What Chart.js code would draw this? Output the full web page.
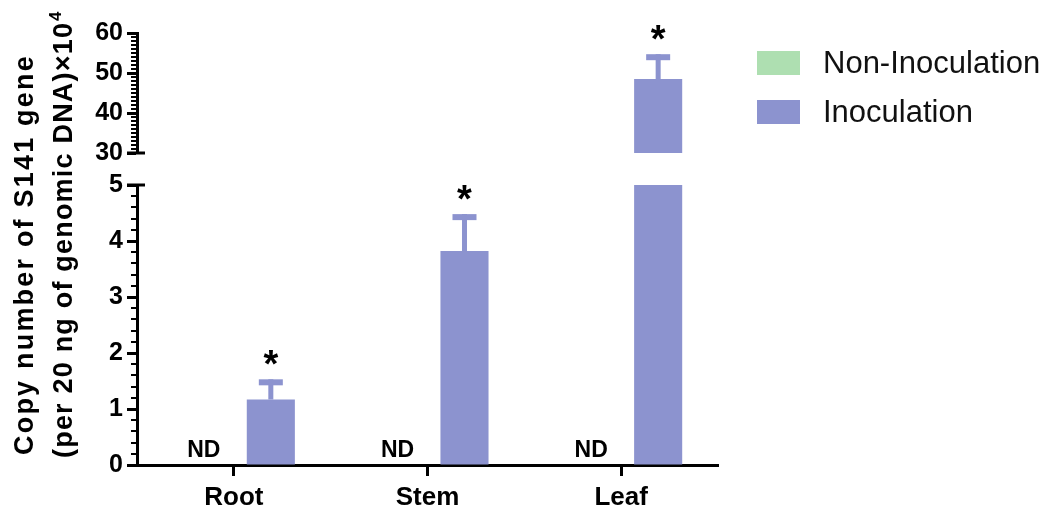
<!DOCTYPE html>
<html>
<head>
<meta charset="utf-8">
<script src="https://cdn.jsdelivr.net/npm/chart.js@4.4.1/dist/chart.umd.min.js"></script>
<style>
  html, body { margin: 0; padding: 0; background: #fff; }
  #wrap { position: relative; width: 1046px; height: 508px; }
  #wrap canvas { position: absolute; left: 0; top: 0; }
</style>
</head>
<body>
<div id="wrap">
  <canvas id="lowerChart" width="1046" height="508"></canvas>
  <canvas id="upperChart" width="1046" height="508"></canvas>
</div>
<script>
const categories = ['Root', 'Stem', 'Leaf'];
const seriesNames = ['Non-Inoculation', 'Inoculation'];
const nonInoculation = [0, 0, 0];          // ND = not detected
const inoculation = [1.17, 3.82, 48.5];
const inoculationErr = [0.36, 0.66, 6.2];
const ndFlags = [true, true, true];
const starFlags = [true, true, true];
const lowerTicks = [0, 1, 2, 3, 4, 5];
const upperTicks = [30, 40, 50, 60];
const titleLine1 = 'Copy number of S141 gene';
const titleLine2 = '(per 20 ng of genomic DNA)\u00d710';
const titleSup = '4';

const GREEN = '#AEDFB1';
const BLUE = '#8C93CF';
const FONT = '"Liberation Sans", Arial, sans-serif';

// segment geometry (pixels)
const lowerSeg = { top: 185, bottom: 465, ticks: lowerTicks, minor: 0.2, isLower: true };
const upperSeg = { top: 33, bottom: 153, ticks: upperTicks, minor: 1, isLower: false };

const segmentPlugin = {
    id: 'segment',
    afterDatasetsDraw(chart, args, opts) {
        const ctx = chart.ctx;
        const y = chart.scales.y;
        const area = chart.chartArea;
        const seg = opts.seg;

        // one-sided error bars and asterisks
        const meta = chart.getDatasetMeta(1);
        meta.data.forEach((bar, i) => {
            const top = inoculation[i] + inoculationErr[i];
            if (top < y.min || top > y.max) return;
            const yVal = y.getPixelForValue(inoculation[i]);
            const yTop = y.getPixelForValue(top);
            ctx.save();
            ctx.fillStyle = BLUE;
            ctx.fillRect(bar.x - 2.5, yTop, 5, yVal - yTop);
            ctx.fillRect(bar.x - 12, yTop, 24, 6);
            if (starFlags[i]) {
                ctx.fillStyle = '#000';
                ctx.font = 'bold 38px ' + FONT;
                ctx.textAlign = 'center';
                ctx.textBaseline = 'alphabetic';
                ctx.fillText('*', bar.x, yTop - 2);
            }
            ctx.restore();
        });

        // ND labels
        if (seg.isLower) {
            const meta0 = chart.getDatasetMeta(0);
            meta0.data.forEach((bar, i) => {
                if (!ndFlags[i]) return;
                ctx.save();
                ctx.fillStyle = '#000';
                ctx.font = 'bold 23px ' + FONT;
                ctx.textAlign = 'center';
                ctx.textBaseline = 'alphabetic';
                ctx.fillText('ND', bar.x + 7, y.getPixelForValue(0) - 8);
                ctx.restore();
            });
        }

        // minor ticks
        ctx.save();
        ctx.strokeStyle = '#000';
        ctx.lineWidth = 2;
        const n = Math.round((y.max - y.min) / seg.minor);
        for (let k = 1; k < n; k++) {
            const v = y.min + k * seg.minor;
            if (seg.ticks.some(t => Math.abs(t - v) < 1e-6)) continue;
            const py = Math.round(y.getPixelForValue(v));
            ctx.beginPath();
            ctx.moveTo(area.left - 6, py);
            ctx.lineTo(area.left, py);
            ctx.stroke();
        }
        // axis break caps
        ctx.lineWidth = 3;
        const capY = seg.isLower ? area.top : area.bottom;
        ctx.beginPath();
        ctx.moveTo(area.left - 10, capY);
        ctx.lineTo(area.left + 8, capY);
        ctx.stroke();
        ctx.restore();
    },
    afterDraw(chart, args, opts) {
        if (!opts.seg.isLower) return;
        const ctx = chart.ctx;
        ctx.save();
        // legend
        const colors = [GREEN, BLUE];
        seriesNames.forEach((name, i) => {
            const ly = 51 + i * 49;
            ctx.fillStyle = colors[i];
            ctx.fillRect(757, ly, 43, 24);
            ctx.fillStyle = '#111';
            ctx.font = '31px ' + FONT;
            ctx.textAlign = 'left';
            ctx.textBaseline = 'middle';
            ctx.fillText(name, 823, ly + 13);
        });
        // y axis title
        ctx.translate(0, 455);
        ctx.rotate(-Math.PI / 2);
        ctx.fillStyle = '#000';
        ctx.textAlign = 'left';
        ctx.textBaseline = 'middle';
        ctx.font = 'bold 27px ' + FONT;
        ctx.letterSpacing = '2.2px';
        ctx.fillText(titleLine1, 0, 26);
        ctx.letterSpacing = '1.2px';
        ctx.fillText(titleLine2, -3, 65);
        const w = ctx.measureText(titleLine2).width;
        ctx.font = 'bold 17px ' + FONT;
        ctx.fillText(titleSup, w - 2, 56);
        ctx.restore();
    }
};

function makeChart(canvas, seg) {
    const axisFont = { family: FONT, size: 25, weight: 'bold' };
    return new Chart(canvas, {
        type: 'bar',
        data: {
            labels: categories,
            datasets: [
                { label: seriesNames[0], data: nonInoculation, backgroundColor: GREEN, borderWidth: 0, clip: 0,
                  categoryPercentage: 0.764, barPercentage: 0.65 },
                { label: seriesNames[1], data: inoculation, backgroundColor: BLUE, borderWidth: 0, clip: 0,
                  categoryPercentage: 0.764, barPercentage: 0.65 }
            ]
        },
        options: {
            responsive: false,
            animation: false,
            layout: { padding: { top: seg.top, right: 328, left: 0, bottom: 0 } },
            plugins: {
                legend: { display: false },
                tooltip: { enabled: false },
                segment: { seg }
            },
            scales: {
                x: {
                    grid: { display: seg.isLower, drawOnChartArea: false, offset: false, tickLength: 11, tickWidth: 3, tickColor: '#000' },
                    border: { display: seg.isLower, color: '#000', width: 3 },
                    ticks: { display: seg.isLower, color: '#000', font: { family: FONT, size: 26, weight: 'bold' }, padding: 6 },
                    afterFit: s => { s.height = 508 - seg.bottom; }
                },
                y: {
                    min: seg.ticks[0],
                    max: seg.ticks[seg.ticks.length - 1],
                    afterBuildTicks: s => { s.ticks = seg.ticks.map(v => ({ value: v })); },
                    grid: { drawOnChartArea: false, tickLength: 10, tickWidth: 3, tickColor: '#000' },
                    border: { color: '#000', width: 3 },
                    ticks: { color: '#000', font: axisFont, padding: 4 },
                    afterFit: s => { s.width = 137; }
                }
            }
        },
        plugins: [segmentPlugin]
    });
}

makeChart(document.getElementById('lowerChart'), lowerSeg);
makeChart(document.getElementById('upperChart'), upperSeg);
</script>
</body>
</html>
